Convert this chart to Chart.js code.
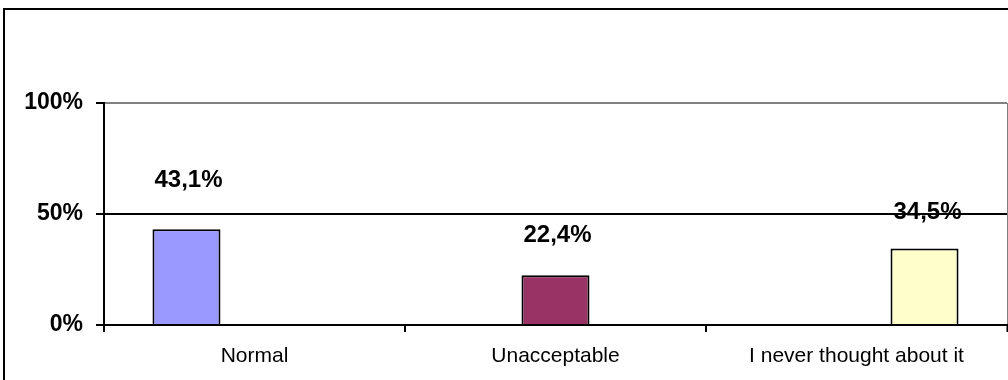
<!DOCTYPE html>
<html>
<head>
<meta charset="utf-8">
<script src="https://cdn.jsdelivr.net/npm/chart.js@4/dist/chart.umd.min.js"></script>
<style>
  html, body { margin: 0; padding: 0; background: #fff; overflow: hidden; }
  #wrap { position: relative; width: 1008px; height: 380px; }
  #frame { position: absolute; left: 3px; top: 8px; width: 1100px; height: 400px;
           border-top: 2px solid #000; border-left: 2px solid #000; }
  #chart { position: absolute; left: 0; top: 0; }
</style>
</head>
<body>
<div id="wrap">
  <div id="frame"></div>
  <canvas id="chart" width="1008" height="380"></canvas>
</div>
<script>
const categories = ["Normal", "Unacceptable", "I never thought about it"];
const normalVals = [43.1, null, null];
const unacceptableVals = [null, 22.4, null];
const neverVals = [null, null, 34.5];
const yTicks = [0, 50, 100];

const FONT = "'Liberation Sans', Arial, sans-serif";

function pct(v) {
  return v.toFixed(1).replace(".", ",") + "%";
}

// value labels over the bars (lift in px per dataset, as placed in the original)
const labelLift = [49, 40, 36];
const labelShift = [2, 2, 3];
const valueLabels = {
  id: "valueLabels",
  afterDatasetsDraw(chart) {
    const ctx = chart.ctx;
    ctx.save();
    ctx.font = "bold 24px " + FONT;
    ctx.fillStyle = "#000";
    ctx.textAlign = "center";
    ctx.textBaseline = "middle";
    chart.data.datasets.forEach((ds, di) => {
      chart.getDatasetMeta(di).data.forEach((bar, i) => {
        const v = ds.data[i];
        if (v == null) return;
        ctx.fillText(pct(v), bar.x + labelShift[di], bar.y - labelLift[di]);
      });
    });
    ctx.restore();
  }
};

const barStyle = {
  borderColor: "#000",
  borderWidth: 2,
  categoryPercentage: 0.678,
  barPercentage: 1
};

new Chart(document.getElementById("chart").getContext("2d"), {
  type: "bar",
  data: {
    labels: categories,
    datasets: [
      { data: normalVals, backgroundColor: "#9999FF", ...barStyle },
      { data: unacceptableVals, backgroundColor: "#993366", ...barStyle },
      { data: neverVals, backgroundColor: "#FFFFCC", ...barStyle }
    ]
  },
  options: {
    responsive: false,
    animation: false,
    devicePixelRatio: 1,
    layout: { padding: { top: 103, right: 1, bottom: 0, left: 0 } },
    plugins: {
      legend: { display: false },
      tooltip: { enabled: false }
    },
    scales: {
      x: {
        offset: true,
        afterFit: s => { s.height = 55; },
        border: { display: true, color: "#000", width: 2 },
        grid: {
          offset: true,
          drawOnChartArea: true,
          color: c => c.type === "tick" ? "rgba(0,0,0,0)" : "#808080",
          lineWidth: c => c.type === "tick" ? 2 : 1,
          tickColor: "#000",
          tickWidth: 2,
          tickLength: 7
        },
        ticks: {
          color: "#000",
          font: { family: FONT, size: 21 },
          padding: 12,
          maxRotation: 0
        }
      },
      y: {
        min: 0,
        max: 100,
        afterFit: s => { s.width = 104; },
        afterBuildTicks: s => { s.ticks = yTicks.map(v => ({ value: v })); },
        border: { display: true, color: "#000", width: 2 },
        grid: {
          color: c => c.tick && c.tick.value === 100 ? "#808080" : "#000",
          lineWidth: 2,
          tickColor: "#000",
          tickWidth: 2,
          tickLength: 8
        },
        ticks: {
          color: "#000",
          font: { family: FONT, size: 23, weight: "bold" },
          padding: 13,
          callback: v => v + "%"
        }
      }
    }
  },
  plugins: [valueLabels]
});
</script>
</body>
</html>
